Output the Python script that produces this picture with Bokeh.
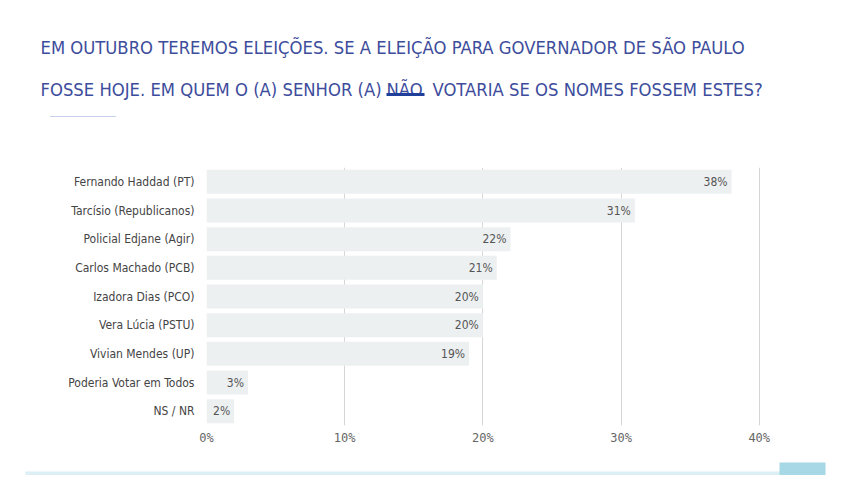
from bokeh.plotting import figure
from bokeh.layouts import column
from bokeh.models import Range1d, FactorRange, ColumnDataSource, FixedTicker
from bokeh.core.properties import value
from bokeh.embed import file_html
from bokeh.resources import INLINE

candidates = ["Fernando Haddad (PT)", "Tarcísio (Republicanos)", "Policial Edjane (Agir)",
              "Carlos Machado (PCB)", "Izadora Dias (PCO)", "Vera Lúcia (PSTU)",
              "Vivian Mendes (UP)", "Poderia Votar em Todos", "NS / NR"]
percentages = [38, 31, 22, 21, 20, 20, 19, 3, 2]
x_ticks = [0, 10, 20, 30, 40]
x_tick_labels = ["0%", "10%", "20%", "30%", "40%"]
title_line1 = "EM OUTUBRO TEREMOS ELEIÇÕES. SE A ELEIÇÃO PARA GOVERNADOR DE SÃO PAULO"
title_line2 = ["FOSSE HOJE. EM QUEM O (A) SENHOR (A)", "NÃO", "VOTARIA SE OS NOMES FOSSEM ESTES?"]

W = 827
COND = "DejaVu Sans Condensed"

def deco_fig(h):
    f = figure(width=W, height=h, output_backend="svg", toolbar_location=None,
               x_range=Range1d(0, W), y_range=Range1d(h, 0),
               min_border=0, min_border_left=0, min_border_right=0,
               min_border_top=0, min_border_bottom=0, frame_align=False)
    f.axis.visible = False
    f.grid.visible = False
    f.outline_line_color = None
    return f

# ---- title block ----
TH = 160
t = deco_fig(TH)
TITLE_SIZE = "18.3px"
TITLE_COLOR = "#3d4d9c"
t.text(x=[40], y=[47], text=[title_line1], text_baseline="alphabetic",
       text_font=value(COND), text_font_size=TITLE_SIZE, text_color=TITLE_COLOR)
t.text(x=[40, 386, 432], y=[89, 89, 89], text=title_line2, text_baseline="alphabetic",
       text_font=value(COND), text_font_size=TITLE_SIZE, text_color=TITLE_COLOR)
t.quad(left=[386], right=[424], top=[92.5], bottom=[95.5], fill_color="#1f3f9a", line_color=None)
t.segment(x0=[50], y0=[116], x1=[116], y1=[116], line_color="#8fa3d6", line_width=1,
          line_dash="1 1")

# ---- chart ----
MH = 290
FL, FT, FB = 206, 7, 25
XEND = 44
FR = W - FL - round(XEND * 553 / 40)

src = ColumnDataSource(dict(cand=candidates, pct=percentages,
                            lbl=[f"{v}%" for v in percentages]))

p = figure(width=W, height=MH, output_backend="svg", toolbar_location=None,
           x_range=Range1d(0, XEND), y_range=FactorRange(factors=list(reversed(candidates))),
           min_border_left=FL, min_border_right=FR, min_border_top=FT, min_border_bottom=FB,
           frame_align=False)
p.outline_line_color = None

p.hbar(y="cand", right="pct", left=0, height=0.84, source=src,
       fill_color="#edf0f1", line_color=None)
p.text(x="pct", y="cand", text="lbl", source=src, x_offset=-4,
       text_align="right", text_baseline="middle",
       text_font=value(COND), text_font_size="12px", text_color="#555555")

p.xaxis.ticker = FixedTicker(ticks=x_ticks)
p.xaxis.major_label_overrides = {tk: lb for tk, lb in zip(x_ticks, x_tick_labels)}
p.xaxis.axis_line_color = None
p.xaxis.major_tick_line_color = None
p.xaxis.minor_tick_line_color = None
p.xaxis.major_tick_out = 0
p.xaxis.major_tick_in = 0
p.xaxis.major_label_standoff = 5
p.xaxis.major_label_text_font = "DejaVu Sans Mono"
p.xaxis.major_label_text_font_size = "12px"
p.xaxis.major_label_text_color = "#666666"

p.yaxis.axis_line_color = None
p.yaxis.major_tick_line_color = None
p.yaxis.major_tick_out = 0
p.yaxis.major_tick_in = 0
p.yaxis.major_label_standoff = 12
p.yaxis.major_label_text_font = COND
p.yaxis.major_label_text_font_size = "12px"
p.yaxis.major_label_text_color = "#444444"

p.xgrid.grid_line_color = "#d6d6d6"
p.xgrid.ticker = FixedTicker(ticks=x_ticks)
p.ygrid.grid_line_color = None

# ---- bottom band ----
BH = 25
b = deco_fig(BH)
b.quad(left=[25], right=[780], top=[21], bottom=[25], fill_color="#dceff5", line_color=None)
b.quad(left=[779], right=[825], top=[12], bottom=[25], fill_color="#a6d8e6", line_color=None)

layout = column(t, p, b, spacing=0)
open("out.html", "w").write(file_html(layout, INLINE))
